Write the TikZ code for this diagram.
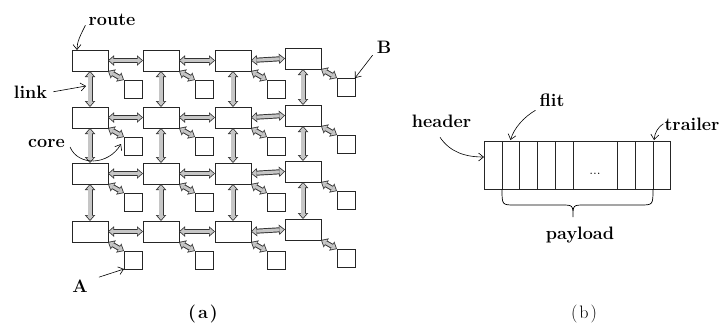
\documentclass[tikz,border=0pt]{standalone}
\usetikzlibrary{arrows.meta}
\begin{document}
\begin{tikzpicture}[x=1pt,y=-1pt,
  router/.style={draw=black!85, line width=0.7pt, minimum width=36pt, minimum height=21pt, inner sep=0pt, outer sep=0pt, anchor=north west},
  corebox/.style={draw=black!85, line width=0.7pt, minimum size=18pt, inner sep=0pt, outer sep=0pt, anchor=north west},
  outertip/.tip={Triangle[length=6pt,width=10.5pt,line width=0pt]},
  innertip/.tip={Triangle[length=4.2pt,width=7.2pt,line width=0pt]},
  link/.style={draw=black!80, line width=5pt, outertip-outertip,
    postaction={draw=gray!45, line width=3.1pt, shorten <=1.2pt, shorten >=1.2pt, innertip-innertip}},
  lbl/.style={font=\fontsize{18}{20}\selectfont\bfseries, anchor=base, inner sep=0pt},
  pointer/.style={line width=0.6pt, -{Straight Barb[length=5pt,width=8pt]}},
  cell/.style={draw=black!85, line width=0.7pt, minimum height=48pt, inner sep=0pt, outer sep=0pt, anchor=north west}
]
\useasboundingbox (0,0) rectangle (724,327);
% ---------------- (a) mesh ----------------
\foreach \c/\x/\d in {1/72/0,2/143/0,3/215/0,4/285/-2}{
  \foreach \r/\y in {1/50,2/107,3/163,4/221}{
    \node[router] (r\r\c) at (\x,{\y+\d}) {};
    \node[corebox] (c\r\c) at ({\x+52},{\y+\d+30}) {};
  }
}
\foreach \r in {1,2,3,4}{
  \draw[link] (r\r1.east) -- (r\r2.west);
  \draw[link] (r\r2.east) -- (r\r3.west);
  \draw[link] (r\r3.east) -- (r\r4.west);
  \foreach \c in {1,2,3,4}{
    \draw[link] (r\r\c.south east) -- (c\r\c.north west);
  }
}
\foreach \c in {1,2,3,4}{
  \draw[link] (r1\c.south) -- (r2\c.north);
  \draw[link] (r2\c.south) -- (r3\c.north);
  \draw[link] (r3\c.south) -- (r4\c.north);
}
% labels (a)
\node[lbl] (troute) at (112,25) {route};
\draw[pointer] ([xshift=-3pt]troute.south west) .. controls (80,36) and (77,42) .. ([xshift=5pt]r11.north west);
\node[lbl] (tlink) at (30.5,98) {link};
\coordinate (linkpt) at (86,86);
\draw[pointer] ([xshift=6pt]tlink.east) -- (linkpt);
\node[lbl] (tcore) at (46.5,147) {core};
\draw[pointer] ([xshift=5pt]tcore.base east) .. controls (78,166) and (108,166) .. ([xshift=-3pt,yshift=2pt]c21.west);
\node[lbl] (tA) at (80,292) {A};
\draw[pointer] ([xshift=11pt,yshift=2pt]tA.north east) -- (c41.south west);
\node[lbl] (tB) at (384,53) {B};
\draw[pointer] ([xshift=-4pt,yshift=-2pt]tB.south west) -- (c14.north east);
\node[lbl] (ta) at (203,318) {(\kern2pt a\kern2pt)};
% ---------------- (b) packet ----------------
\foreach \i/\x/\w in {1/484/18,2/502/17,3/519/18,4/537/18,5/555/18,6/573/44,7/617/18,8/635/18,9/653/17}{
  \node[cell, minimum width=\w pt] (cell\i) at (\x,141) {};
}
\node[font=\fontsize{14}{14}\selectfont, inner sep=0pt, anchor=base] (dots) at (595,174) {...};
\node[lbl] (thead) at (441.5,127) {header};
\draw[pointer] ([xshift=-1.5pt,yshift=-10pt]thead.south) .. controls (450,152) and (465,157) .. ([yshift=8pt]cell1.west);
\node[lbl] (tflit) at (552,106) {flit};
\draw[pointer] ([xshift=-4pt,yshift=-4pt]tflit.south west) .. controls (524,117) and (514,128) .. ([yshift=1pt]cell2.north);
\node[lbl] (ttrail) at (692,130) {trailer};
\draw[pointer] ([xshift=-1pt]ttrail.west) .. controls (657,128) and (655,133) .. ([xshift=1pt,yshift=1pt]cell9.north west);
\draw[line width=0.7pt] (cell2.south west) .. controls (502,205) .. (515,205) -- (561,205) .. controls (573,205) .. (573,217) .. controls (573,205) .. (585,205) -- (640,205) .. controls (653,205) .. (cell9.south west);
\node[lbl] (tpay) at (580,239) {payload};
\node[lbl, font=\fontsize{18}{20}\selectfont\mdseries] (tb) at (584,318) {(\kern2pt b\kern2pt)};
\end{tikzpicture}
\end{document}
